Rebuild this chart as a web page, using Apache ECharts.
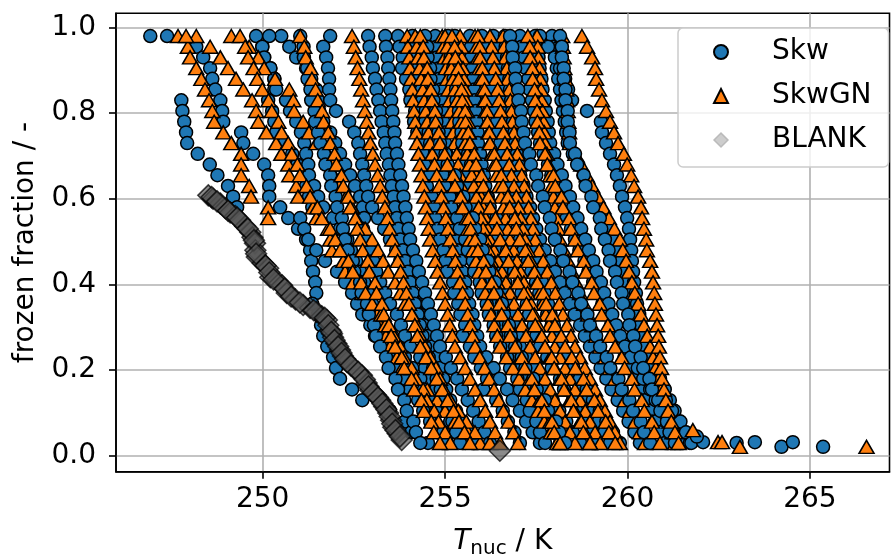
<!DOCTYPE html>
<html><head><meta charset="utf-8">
<script src="https://cdn.jsdelivr.net/npm/echarts@6/dist/echarts.min.js"></script>
<style>html,body{margin:0;padding:0;background:#fff}#c{width:891px;height:554px}</style>
</head><body><div id="c"></div>
<script>
// frozen-fraction levels shared by the freezing curves (top to bottom)
const fLevels = [0.98,0.955,0.93,0.905,0.88,0.855,0.83,0.805,0.78,0.755,0.73,0.705,0.68,0.655,0.63,0.605,0.58,0.555,0.53,0.505,0.48,0.455,0.43,0.405,0.38,0.355,0.33,0.305,0.28,0.255,0.23,0.205,0.18,0.155,0.13,0.105,0.08,0.055,0.03];
const xTicks = [250,255,260,265];
const yTicks = [0,0.2,0.4,0.6,0.8,1.0];

// Skw curves: T_nuc (K) at each frozen-fraction level
const skw01 = [246.92,null,null,null,null,null,247.77,247.80,247.85,247.90,247.93,248.22,248.55,248.76,249.05,249.19,249.30];
const skw02 = [247.38,248.18,248.37,248.56,248.62,248.70,248.84,248.89,248.92,249.41,249.47,249.74,250.04,250.15,250.18,250.18,250.48,250.70,250.97,251.19,251.30,251.33,251.38,251.44,251.47,251.36,251.52,251.60,251.66,251.77,251.93,252.01,252.12,252.45,252.73,253.49,253.90,254.07,254.53];
const skw03 = [249.82,249.99,250.04,250.21,250.32,250.32,250.15,250.26,250.32,250.37,250.59,250.81,250.95,251.14,251.19,251.27,251.36,251.03,251.14,251.25,251.47,251.71,252.04,252.26,252.45,252.59,252.73,252.95,253.08,253.30,253.55,253.71,253.90,254.04,254.26,254.40,254.59,254.95,255.05];
const skw04 = [250.51,250.73,250.92,251.19,251.33,251.47,251.52,251.55,251.66,251.85,251.99,252.12,252.26,252.40,252.53,252.67,252.75,252.78,252.75,252.84,252.95,253.03,253.11,253.22,253.36,253.49,253.68,253.79,253.90,254.04,254.32,254.45,254.53,254.75,254.86,255.03,255.19,255.36,255.49];
const skw05 = [250.18,249.99,250.04,250.21,250.32,250.37,250.64,250.75,250.92,251.05,251.14,251.19,251.25,251.27,251.41,251.52,251.66,251.93,252.12,252.32,252.42,252.56,252.67,252.78,252.89,253.00,253.22,253.36,253.55,253.71,253.90,254.10,254.32,254.42,254.59,254.75,255.14,255.36,255.55];
const skw06 = [251.85,251.66,251.74,251.79,251.82,251.82,251.85,252.01,252.37,252.51,252.62,252.67,252.73,252.78,252.84,252.89,253.00,253.16,253.33,253.49,253.66,253.77,253.88,253.99,254.10,254.21,254.32,254.42,254.53,254.64,254.75,254.86,254.95,255.03,255.14,255.30,255.47,255.63,255.79];
const skw07 = [253.71,253.75,253.84,253.82,253.93,254.02,254.05,254.18,254.15,254.24,254.32,254.40,254.43,254.58,254.50,254.63,254.70,254.73,254.80,254.86,254.95,255.01,255.05,255.22,255.25,255.36,255.42,255.55,255.48,255.68,255.80,255.98,256.15,256.05,256.40,256.58,256.72,256.90,257.05];
const skw08 = [254.73,254.77,254.78,254.83,254.84,254.88,254.90,254.93,254.95,254.99,255.00,255.04,255.06,255.10,255.12,255.16,255.18,255.22,255.25,255.27,255.33,255.42,255.47,255.55,255.60,255.66,255.75,255.80,255.88,255.96,256.13,256.33,256.50,256.70,256.85,257.05,257.22,257.40,257.60];
const skw09 = [255.68,255.71,255.72,255.75,255.77,255.80,255.81,255.84,255.86,255.89,255.90,255.96,256.00,256.06,256.10,256.17,256.21,256.26,256.31,256.37,256.43,256.51,256.57,256.65,256.70,256.78,256.84,256.90,256.99,257.05,257.22,257.42,257.58,257.78,257.95,258.13,258.32,258.50,258.70];
const skw10 = [256.01,256.07,256.10,256.17,256.20,256.27,256.30,256.36,256.42,256.45,256.51,256.58,256.62,256.70,256.74,256.81,256.86,256.93,256.98,257.05,257.15,257.27,257.36,257.49,257.58,257.70,257.80,257.92,258.03,258.15,258.30,258.44,258.61,258.75,258.92,259.06,259.21,259.37,259.52];
const skw11 = [256.32,256.37,256.41,256.47,256.50,256.56,256.59,256.65,256.69,256.74,256.78,256.87,256.97,257.05,257.15,257.23,257.33,257.41,257.50,257.60,257.73,257.88,258.01,258.15,258.28,258.42,258.55,258.70,258.83,258.97,259.12,259.26,259.42,259.56,259.73,259.88,260.03,260.19,260.34];
const skw12 = [257.05,257.10,257.17,257.21,257.28,257.32,257.38,257.44,257.48,257.55,257.60,257.70,257.82,257.91,258.03,258.12,258.24,258.33,258.45,258.56,258.68,258.82,258.93,259.06,259.17,259.31,259.42,259.55,259.67,259.79,259.92,260.07,260.20,260.33,260.48,260.60,260.75,260.88,261.03];
const skw13 = [257.47,257.50,257.56,257.59,257.64,257.67,257.73,257.76,257.81,257.84,257.88,257.99,258.08,258.20,258.30,258.42,258.51,258.63,258.73,258.84,258.94,259.06,259.15,259.27,259.36,259.48,259.58,259.69,259.80,259.93,260.09,260.28,260.43,260.62,260.77,260.94,261.12,261.27,261.44];
const skw14 = [257.93,257.97,258.02,258.06,258.10,258.15,258.19,258.23,258.28,258.32,258.36,258.50,258.65,258.79,258.94,259.08,259.22,259.37,259.51,259.66,259.74,259.83,259.90,259.99,260.06,260.15,260.23,260.32,260.39,260.48,260.61,260.75,260.89,261.02,261.16,261.29,261.43,261.57,261.71];
const skw15 = [257.60,257.82,258.01,258.15,258.29,258.37,258.48,258.89,259.27,259.30,259.41,259.52,259.63,259.71,259.79,259.85,259.93,259.99,260.04,260.07,260.10,260.12,260.15,260.18,260.23,260.26,260.32,260.37,260.42,260.48,260.56,260.64,260.75,260.89,261.05,261.22,261.45,261.60,261.75];
const skw16 = [252.89,252.93,252.99,253.02,253.08,253.12,253.17,253.22,253.26,253.32,253.36,253.40,253.46,253.50,253.54,253.59,253.63,253.68,253.72,253.77,253.84,253.90,253.98,254.04,254.11,254.17,254.25,254.31,254.38,254.45,254.55,254.67,254.77,254.88,254.98,255.09,255.20,255.30,255.41];
const skw17 = [253.36,253.38,253.42,253.44,253.47,253.50,253.52,253.55,253.58,253.61,253.63,253.68,253.72,253.77,253.82,253.86,253.91,253.95,254.00,254.04,254.12,254.21,254.28,254.37,254.45,254.53,254.61,254.69,254.78,254.86,255.02,255.16,255.33,255.46,255.62,255.77,255.92,256.08,256.23];
const skw18 = [256.64,256.66,256.70,256.72,256.76,256.78,256.81,256.84,256.86,256.90,256.92,256.97,257.01,257.06,257.10,257.15,257.19,257.24,257.28,257.33,257.41,257.50,257.57,257.66,257.73,257.82,257.89,257.98,258.06,258.15,258.33,258.52,258.69,258.88,259.05,259.24,259.42,259.60,259.79];
const skw19 = [255.27,255.29,255.30,255.33,255.35,255.37,255.39,255.41,255.43,255.45,255.47,255.51,255.55,255.59,255.63,255.67,255.70,255.74,255.78,255.82,255.90,255.99,256.06,256.15,256.22,256.31,256.38,256.47,256.55,256.64,256.80,256.98,257.14,257.32,257.47,257.65,257.81,257.98,258.15];
const skw20 = [254.10,254.18,254.19,254.27,254.28,254.36,254.38,254.47,254.46,254.55,254.59,254.72,254.78,254.94,254.99,255.12,255.17,255.33,255.40,255.55,255.62,255.76,255.80,255.95,256.00,256.14,256.20,256.33,256.40,256.51,256.70,256.78,256.98,257.05,257.24,257.32,257.50,257.60,257.74];
const skw21 = [255.08,255.14,255.15,255.22,255.23,255.30,255.31,255.38,255.39,255.45,255.47,255.63,255.71,255.90,255.97,256.15,256.22,256.41,256.50,256.64,256.70,256.85,256.89,257.05,257.09,257.24,257.30,257.43,257.50,257.60,257.80,257.92,258.15,258.26,258.50,258.60,258.83,258.94,259.11];
const skw22 = [256.78,256.84,256.85,256.92,256.93,257.00,257.01,257.08,257.10,257.15,257.19,257.31,257.35,257.50,257.55,257.68,257.73,257.87,257.92,258.01,258.16,258.24,258.41,258.49,258.65,258.73,258.90,258.97,259.14,259.25,259.43,259.53,259.75,259.84,260.05,260.15,260.36,260.45,260.62];
const skw23 = [258.15,258.20,258.20,258.25,258.25,258.30,258.30,258.36,258.36,258.41,258.42,258.56,258.62,258.80,258.85,259.01,259.06,259.24,259.28,259.38,259.48,259.52,259.66,259.71,259.84,259.88,260.02,260.05,260.16,260.21,260.36,260.43,260.60,260.67,260.84,260.90,261.08,261.15,261.30];
const skw24 = [254.45,254.51,254.52,254.59,254.60,254.67,254.68,254.75,254.76,254.82,254.86,255.01,255.07,255.27,255.33,255.50,255.56,255.76,255.82,255.96,256.03,256.17,256.21,256.37,256.41,256.56,256.61,256.75,256.80,256.92,257.10,257.20,257.42,257.51,257.73,257.82,258.04,258.13,258.29];
const skw25 = [251.03,251.12,251.13,251.22,251.23,251.31,251.33,251.42,251.44,251.52,251.58,251.68,251.72,251.85,251.88,252.00,252.04,252.17,252.20,252.26,252.33,252.47,252.51,252.67,252.71,252.86,252.91,253.05,253.11,253.22,253.38,253.45,253.64,253.71,253.88,253.95,254.13,254.20,254.32];

// SkwGN curves
const skwgn01 = [247.68,247.95,248.01,248.18,248.32,248.42,248.53,248.62,248.67,248.92,249.14,249.41,249.41,249.41,249.63,249.68,250.15,250.15];
const skwgn02 = [248.18,248.56,248.84,249.05,249.27,249.47,249.71,249.82,249.88,250.10,250.37,250.51,250.70,250.73,250.92,250.97,251.38,251.47,251.79,251.85,251.90,252.21,252.26,252.48,252.73,252.95,253.14,253.22,253.38,253.49,253.68,253.82,254.18,254.51,254.78,255.00,255.27,255.63,255.96];
const skwgn03 = [249.14,249.63,249.88,250.04,250.34,250.73,250.84,250.86,251.11,251.27,251.47,251.79,251.93,251.96,252.10,252.29,252.45,252.56,252.81,253.00,253.16,253.30,253.44,253.63,253.77,253.90,254.10,254.23,254.32,254.45,254.59,254.75,254.86,254.97,255.14,255.36,255.58,255.82,256.23];
const skwgn04 = [253.96,253.98,254.02,254.04,254.07,254.10,254.12,254.15,254.18,254.21,254.23,254.27,254.31,254.35,254.39,254.43,254.47,254.51,254.55,254.59,254.66,254.73,254.79,254.86,254.93,255.00,255.07,255.13,255.20,255.27,255.41,255.55,255.68,255.82,255.96,256.10,256.23,256.37,256.51];
const skwgn05 = [254.18,254.22,254.26,254.30,254.34,254.39,254.43,254.47,254.51,254.55,254.59,254.65,254.71,254.77,254.84,254.90,254.96,255.02,255.08,255.14,255.21,255.28,255.34,255.41,255.48,255.55,255.62,255.69,255.75,255.82,255.95,256.08,256.21,256.34,256.47,256.60,256.74,256.87,257.00];
const skwgn06 = [254.92,254.95,254.99,255.02,255.06,255.09,255.13,255.16,255.20,255.23,255.27,255.32,255.36,255.41,255.45,255.50,255.54,255.59,255.63,255.68,255.76,255.85,255.93,256.01,256.10,256.18,256.26,256.35,256.43,256.51,256.68,256.86,257.03,257.20,257.38,257.55,257.72,257.90,258.07];
const skwgn07 = [255.41,255.44,255.46,255.49,255.52,255.55,255.57,255.60,255.63,255.65,255.68,255.74,255.80,255.86,255.92,255.99,256.05,256.11,256.17,256.23,256.34,256.45,256.56,256.67,256.78,256.89,257.00,257.11,257.22,257.33,257.47,257.60,257.74,257.88,258.01,258.15,258.29,258.42,258.56];
const skwgn08 = [256.59,256.62,256.66,256.69,256.72,256.76,256.79,256.82,256.85,256.89,256.92,256.98,257.04,257.10,257.17,257.23,257.29,257.35,257.41,257.47,257.58,257.69,257.80,257.91,258.02,258.13,258.23,258.34,258.45,258.56,258.70,258.83,258.97,259.11,259.24,259.38,259.52,259.65,259.79];
const skwgn09 = [257.52,257.54,257.56,257.59,257.61,257.63,257.65,257.67,257.70,257.72,257.74,257.79,257.83,257.88,257.92,257.97,258.01,258.06,258.10,258.15,258.26,258.37,258.48,258.59,258.70,258.81,258.92,259.03,259.14,259.25,259.39,259.52,259.66,259.80,259.93,260.07,260.21,260.34,260.48];
const skwgn10 = [258.21,258.23,258.25,258.27,258.30,258.32,258.34,258.36,258.38,258.40,258.42,258.57,258.73,258.88,259.03,259.18,259.34,259.49,259.64,259.79,259.87,259.96,260.04,260.12,260.20,260.29,260.37,260.45,260.54,260.62,260.70,260.77,260.85,260.92,261.00,261.08,261.15,261.23,261.30];
const skwgn11 = [256.23,256.27,256.31,256.35,256.39,256.44,256.48,256.52,256.56,256.60,256.64,256.70,256.76,256.82,256.89,256.95,257.01,257.07,257.13,257.19,257.27,257.35,257.44,257.52,257.60,257.68,257.76,257.85,257.93,258.01,258.15,258.29,258.42,258.56,258.70,258.84,258.97,259.11,259.25];
const skwgn12 = [252.45,252.50,252.55,252.60,252.65,252.70,252.75,252.80,252.85,252.90,252.95,253.02,253.08,253.15,253.22,253.28,253.35,253.42,253.48,253.55,253.63,253.70,253.78,253.86,253.94,254.01,254.09,254.17,254.24,254.32,254.47,254.62,254.77,254.92,255.07,255.23,255.38,255.53,255.68];
const skwgn13 = [255.00,255.06,255.11,255.17,255.22,255.28,255.33,255.39,255.44,255.50,255.55,255.61,255.67,255.73,255.79,255.86,255.92,255.98,256.04,256.10,256.18,256.26,256.35,256.43,256.51,256.59,256.67,256.76,256.84,256.92,257.06,257.19,257.33,257.47,257.60,257.74,257.88,258.01,258.15];
const skwgn14 = [255.82,255.86,255.90,255.94,255.98,256.03,256.07,256.11,256.15,256.19,256.23,256.29,256.35,256.41,256.48,256.54,256.60,256.66,256.72,256.78,256.88,256.97,257.07,257.16,257.26,257.36,257.45,257.55,257.64,257.74,257.88,258.01,258.15,258.29,258.42,258.56,258.70,258.83,258.97];
const skwgn15 = [258.75,258.89,259.03,259.11,259.14,259.22,259.30,259.41,259.52,259.63,259.74,259.90,259.99,260.10,260.18,260.29,260.37,260.40,260.45,260.51,260.53,260.62,260.67,260.70,260.73,260.75,260.78,260.81,260.84,260.86,260.89,260.92,260.95,261.00,261.05,261.11,261.20,261.30,261.40];
const skwgn16 = [254.32,254.40,254.42,254.51,254.53,254.61,254.64,254.72,254.74,254.83,254.86,254.99,255.06,255.22,255.27,255.43,255.48,255.65,255.70,255.82,255.90,256.06,256.12,256.28,256.34,256.50,256.55,256.72,256.78,256.92,257.10,257.18,257.38,257.45,257.65,257.72,257.93,257.99,258.15];
const skwgn17 = [255.90,255.95,255.96,256.02,256.03,256.08,256.10,256.15,256.16,256.21,256.23,256.35,256.40,256.54,256.59,256.72,256.77,256.91,256.95,257.05,257.20,257.28,257.45,257.53,257.69,257.77,257.94,258.01,258.18,258.29,258.47,258.57,258.79,258.88,259.09,259.19,259.40,259.49,259.66];
const skwgn18 = [257.27,257.32,257.33,257.39,257.40,257.45,257.47,257.52,257.53,257.58,257.60,257.74,257.80,257.97,258.02,258.19,258.23,258.40,258.45,258.56,258.64,258.80,258.86,259.02,259.08,259.24,259.29,259.46,259.52,259.66,259.84,259.92,260.12,260.19,260.39,260.46,260.67,260.73,260.89];
const skwgn19 = [255.19,255.26,255.28,255.36,255.37,255.45,255.47,255.55,255.56,255.64,255.68,255.80,255.85,256.00,256.05,256.19,256.24,256.38,256.42,256.51,256.66,256.74,256.91,256.99,257.16,257.23,257.40,257.47,257.65,257.74,257.92,257.99,258.19,258.26,258.46,258.52,258.73,258.79,258.97];
const skwgn20 = [249.38,249.52,249.60,249.75,249.85,249.99,250.16,250.25,250.43,250.52,250.70,250.80,250.95,251.02,251.20,251.30,251.50,251.62,251.85,251.99,252.12,252.35,252.47,252.70,252.82,253.00,253.25,253.36,253.60,253.77,253.88,254.08,254.20,254.40,254.50,254.70,254.82,255.00,255.14];
const skwgn21 = [251.03,251.14,251.18,251.31,251.35,251.45,251.51,251.63,251.67,251.80,251.85,251.97,252.02,252.16,252.21,252.35,252.40,252.54,252.59,252.67,252.74,252.88,252.92,253.08,253.12,253.27,253.32,253.46,253.52,253.63,253.81,253.88,254.08,254.15,254.35,254.42,254.62,254.69,254.86];

// isolated points (T, fraction)
const skwLoose = [[262.07,0.032],[262.99,0.030],[263.49,0.032],[264.22,0.021],[264.53,0.032],[265.36,0.021],[261.90,0.045]];
const skwgnLoose = [[247.90,0.98],[261.79,0.060],[262.48,0.032],[262.59,0.032],[263.08,0.021],[266.55,0.021]];

// BLANK
const blankT = [248.51,248.64,248.84,248.98,249.11,249.25,249.38,249.52,249.66,249.72,249.79,249.80,249.84,250.00,250.15,250.21,250.40,250.53,250.66,250.90,251.11,251.30,251.48,251.62,251.76,251.85,251.90,251.93,252.02,252.12,252.20,252.31,252.52,252.72,252.85,252.95,253.10,253.22,253.33,253.44,253.52,253.58,253.70,253.81,256.50,
  248.60,248.75,249.05,249.30,249.59,249.76,249.82,250.08,250.18,250.30,250.60,250.78,251.02,251.40,251.70,251.80,251.88,251.97,252.07,252.16,252.26,252.42,252.62,252.80,252.90,253.03,253.16,253.28,253.39,253.48,253.55,253.64,253.76];
const blankF = [0.608,0.600,0.589,0.578,0.568,0.560,0.550,0.536,0.522,0.510,0.496,0.480,0.464,0.450,0.438,0.417,0.408,0.398,0.380,0.365,0.352,0.345,0.336,0.326,0.317,0.293,0.285,0.277,0.262,0.247,0.233,0.219,0.203,0.188,0.170,0.153,0.142,0.130,0.115,0.100,0.083,0.067,0.052,0.037,0.012,
  0.604,0.594,0.572,0.556,0.530,0.503,0.472,0.444,0.428,0.412,0.390,0.372,0.358,0.340,0.322,0.305,0.289,0.270,0.255,0.240,0.226,0.211,0.196,0.178,0.162,0.148,0.136,0.122,0.108,0.092,0.075,0.060,0.045];

// drawing order: main Skw curves, then SkwGN curves interleaved with the extra Skw curves
const skwMain = [skw01,skw02,skw03,skw04,skw05,skw06,skw07,skw08,skw09,skw10,skw11,skw12,skw13,skw14,skw15,skw16,skw17,skw18,skw19];
const skwExtra = [skw20,skw21,skw22,skw23,skw24,skw25];
const skwgnAll = [skwgn01,skwgn02,skwgn03,skwgn04,skwgn05,skwgn06,skwgn07,skwgn08,skwgn09,skwgn10,skwgn11,skwgn12,skwgn13,skwgn14,skwgn15,skwgn16,skwgn17,skwgn18,skwgn19,skwgn20,skwgn21];

const FONT = 'DejaVu Sans';
function curveData(c){ const d=[]; c.forEach((t,i)=>{ if(t!=null) d.push([t,fLevels[i]]); }); return d; }
const skwStyle = {type:'scatter', name:'Skw', symbol:'circle', symbolSize:13, itemStyle:{color:'#1f77b4', borderColor:'#000', borderWidth:1.5, opacity:1}};
const gnStyle = {type:'scatter', name:'SkwGN', symbol:'triangle', symbolSize:[15,13], itemStyle:{color:'#ff7f0e', borderColor:'#000', borderWidth:1.5, opacity:1}};
const series = [];
skwMain.forEach(c => series.push(Object.assign({}, skwStyle, {data: curveData(c)})));
skwgnAll.forEach((c, i) => {
  series.push(Object.assign({}, gnStyle, {data: curveData(c)}));
  if (i % 3 === 2 && skwExtra[(i - 2) / 3]) series.push(Object.assign({}, skwStyle, {data: curveData(skwExtra[(i - 2) / 3])}));
});
series.push(Object.assign({}, skwStyle, {data: skwLoose}));
series.push(Object.assign({}, gnStyle, {data: skwgnLoose}));
series.push({type:'scatter', name:'BLANK', symbol:'diamond', symbolSize:21,
  itemStyle:{color:'rgba(85,85,85,0.85)', borderColor:'rgba(0,0,0,0.9)', borderWidth:1.5},
  data: blankT.map((t,i)=>[t, blankF[i]])});

const chart = echarts.init(document.getElementById('c'), null, {renderer:'canvas'});
chart.setOption({
  animation:false,
  textStyle:{fontFamily:FONT},
  grid:{left:116, right:1.5, top:13.3, bottom:82.3, containLabel:false, outerBoundsMode:'none', show:true, borderColor:'#000', borderWidth:1.6, backgroundColor:'rgba(0,0,0,0)'},
  legend:{orient:'vertical', left:678, top:28, padding:[9,17,12,35], itemWidth:14, itemHeight:14, itemGap:14,
    backgroundColor:'rgba(255,255,255,0.8)', borderColor:'#cccccc', borderWidth:1.5, borderRadius:5,
    textStyle:{fontFamily:FONT, fontSize:28, lineHeight:30, color:'#000', padding:[0,0,0,39]},
    data:[{name:'Skw', icon:'circle'},{name:'SkwGN', icon:'triangle'},
      {name:'BLANK', icon:'diamond', itemStyle:{color:'#c0c0c0', borderColor:'#b0b0b0', borderWidth:1.5}}]},
  xAxis:{type:'value', min:245.98, max:267.18,
    axisLine:{show:true, onZero:false, lineStyle:{color:'#000', width:1.6}},
    axisTick:{show:true, customValues:xTicks, length:7, lineStyle:{color:'#000', width:1.6}},
    axisLabel:{customValues:xTicks, fontSize:28, color:'#000', fontFamily:FONT, margin:14},
    splitLine:{show:true, lineStyle:{color:'#b0b0b0', width:1.6}},
    name:'{i|T}{s|nuc}{n| / K}', nameLocation:'middle', nameGap:53,
    nameTextStyle:{rich:{i:{fontFamily:FONT, fontStyle:'italic', fontSize:28, color:'#000'},
      s:{fontFamily:FONT, fontSize:20, color:'#000', padding:[14,0,0,0]},
      n:{fontFamily:FONT, fontSize:28, color:'#000'}}}},
  yAxis:{type:'value', min:-0.037, max:1.033,
    axisLine:{show:true, onZero:false, lineStyle:{color:'#000', width:1.6}},
    axisTick:{show:true, customValues:yTicks, length:7, lineStyle:{color:'#000', width:1.6}},
    axisLabel:{customValues:yTicks, fontSize:28, color:'#000', fontFamily:FONT, margin:20, formatter:v=>v.toFixed(1)},
    splitLine:{show:true, lineStyle:{color:'#b0b0b0', width:1.6}},
    name:'frozen fraction / -', nameLocation:'middle', nameGap:76,
    nameTextStyle:{fontFamily:FONT, fontSize:28, color:'#000'}},
  series: series
});
</script></body></html>
